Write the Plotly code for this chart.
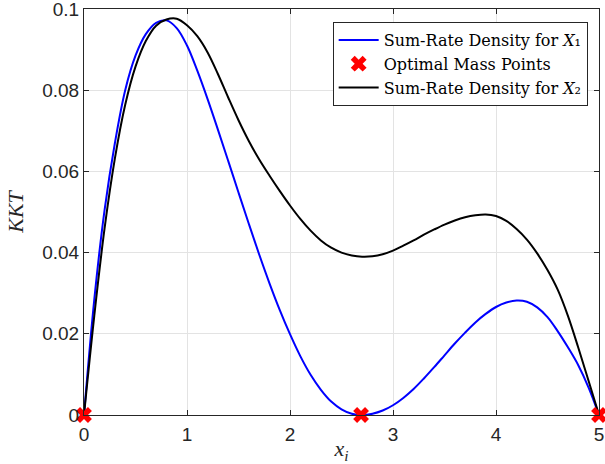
import plotly.graph_objects as go

# x positions (common grid)
x_grid = [round(0.1 * i, 1) for i in range(51)]

# Sum-Rate Density for X1 (blue)
x1_density = [0.0, 0.0285, 0.0505, 0.0670, 0.0800, 0.0885, 0.0938, 0.0966, 0.0972, 0.0953,
              0.0910, 0.0848, 0.0778, 0.0703, 0.0626, 0.0548, 0.0471, 0.0396, 0.0325, 0.0259,
              0.0199, 0.0145, 0.0099, 0.0062, 0.0033, 0.0014, 0.0003, 0.0, 0.0003, 0.0011,
              0.0024, 0.0042, 0.0064, 0.0090, 0.0118, 0.0147, 0.0176, 0.0203, 0.0228, 0.0249,
              0.0266, 0.0277, 0.0282, 0.0279, 0.0265, 0.0241, 0.0206, 0.0166, 0.0122, 0.0067,
              0.0]

# Sum-Rate Density for X2 (black)
x2_density = [0.0, 0.0245, 0.0460, 0.0632, 0.0764, 0.0858, 0.0921, 0.0959, 0.0974, 0.0976,
              0.0960, 0.0933, 0.0893, 0.0840, 0.0782, 0.0726, 0.0675, 0.0630, 0.0590, 0.0552,
              0.0516, 0.0483, 0.0454, 0.0430, 0.0412, 0.0400, 0.0393, 0.0390, 0.0391, 0.0396,
              0.0405, 0.0417, 0.0430, 0.0444, 0.0457, 0.0469, 0.0479, 0.0487, 0.0492, 0.0494,
              0.0490, 0.0478, 0.0458, 0.0432, 0.0398, 0.0357, 0.0308, 0.0243, 0.0165, 0.0083,
              0.0]

# Optimal mass points
mass_x = [0.0, 2.69, 5.0]
mass_y = [0.0, 0.0, 0.0]

x_ticks = [0, 1, 2, 3, 4, 5]
y_ticks = [0, 0.02, 0.04, 0.06, 0.08, 0.1]
y_ticklabels = ["0", "0.02", "0.04", "0.06", "0.08", "0.1"]

serif = "Liberation Serif"
legend_serif = "DejaVu Serif"
sans = "Liberation Sans"
axis_col = "#262626"

fig = go.Figure()
fig.add_trace(go.Scatter(
    x=x_grid, y=x1_density, mode="lines", line=dict(color="#0000ff", width=2, shape="spline"),
    name="Sum-Rate Density for <i>X</i>\u2081", legendrank=1, cliponaxis=False))
fig.add_trace(go.Scatter(
    x=x_grid, y=x2_density, mode="lines", line=dict(color="#000000", width=2, shape="spline"),
    name="Sum-Rate Density for <i>X</i>\u2082", legendrank=3, cliponaxis=False))
fig.add_trace(go.Scatter(
    x=mass_x, y=mass_y, mode="markers",
    marker=dict(symbol="x", color="#ff0000", size=14, line=dict(width=0)),
    name="Optimal Mass Points", legendrank=2, cliponaxis=False))

fig.update_layout(
    width=605, height=464,
    margin=dict(l=84, r=6, t=9, b=49, autoexpand=False),
    paper_bgcolor="white", plot_bgcolor="white",
    showlegend=True,
    legend=dict(
        x=0.978, y=0.968, xanchor="right", yanchor="top",
        bgcolor="white", bordercolor="#262626", borderwidth=1,
        font=dict(family=legend_serif, size=16, color="black"),
        tracegroupgap=0, itemwidth=40,
    ),
    xaxis=dict(
        range=[0, 5], tickvals=x_ticks, ticks="inside", ticklen=5, tickcolor=axis_col,
        showline=True, linecolor=axis_col, linewidth=1, mirror="ticks",
        showgrid=True, gridcolor="#e3e3e3", gridwidth=1, zeroline=False,
        tickfont=dict(family=sans, size=19, color=axis_col), ticklabelstandoff=2,
        ticklabeloverflow="allow", automargin=False,
        title=dict(text="<i>x</i><sub><i>i</i></sub>", font=dict(family=serif, size=22, color=axis_col), standoff=0),
    ),
    yaxis=dict(
        range=[0, 0.1], tickvals=y_ticks, ticktext=y_ticklabels, ticks="inside", ticklen=5, tickcolor=axis_col,
        showline=True, linecolor=axis_col, linewidth=1, mirror="ticks",
        showgrid=True, gridcolor="#e3e3e3", gridwidth=1, zeroline=False,
        tickfont=dict(family=sans, size=19, color=axis_col),
        ticklabeloverflow="allow", automargin=False,
        title=dict(text="<i>KKT</i>", font=dict(family=serif, size=22, color=axis_col), standoff=12),
    ),
)

fig.write_html("out.html")
